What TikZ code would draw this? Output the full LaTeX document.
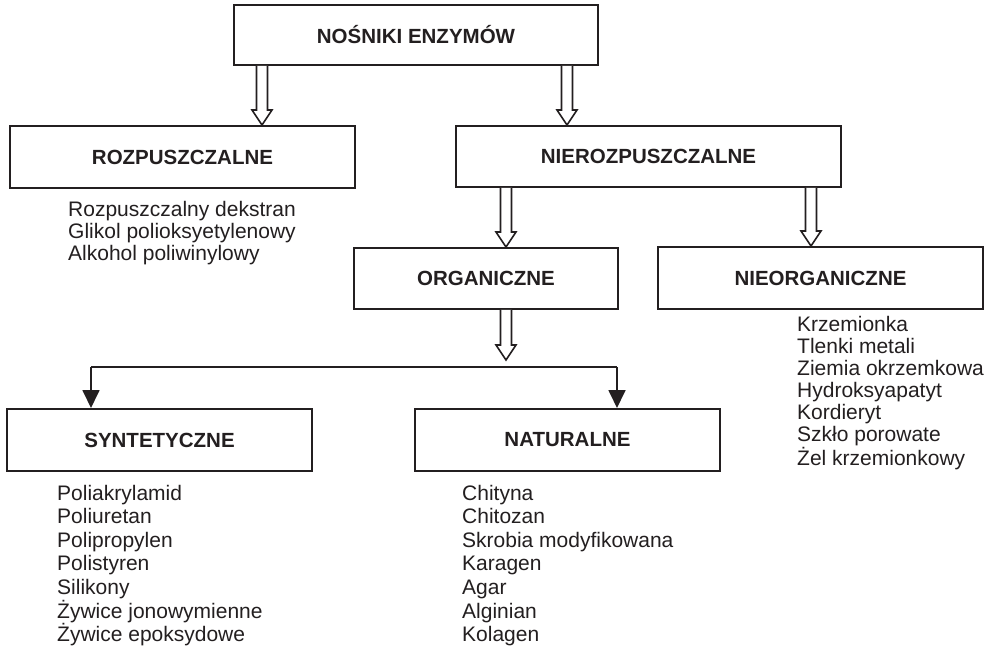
\documentclass[tikz,border=0pt]{standalone}
\usepackage{fontspec}
\setmainfont{Liberation Sans}
\usetikzlibrary{arrows.meta,calc}
\definecolor{ink}{RGB}{35,31,32}
\tikzset{
  box/.style={draw=ink, line width=2pt, inner sep=0pt, text=ink,
    font=\bfseries\fontsize{20.5}{24}\selectfont},
  itemlist/.style={anchor=base west, inner sep=0pt, align=left, text=ink,
    font=\fontsize{21}{22}\selectfont},
  hollowline/.style={draw=ink, line width=1.6pt, fill=white, line join=miter},
  solidline/.style={draw=ink, line width=1.8pt},
  solidarrow/.style={solidline, -{Triangle[width=17pt,length=18pt]}},
}
\newcommand\hollowarrow[2]{%
  \draw[hollowline] let \p1=(#1), \p2=(#2) in
    (\x1-5.5pt,\y1) -- (\x1-5.5pt,\y2+15pt) -- (\x1-10pt,\y2+15pt) --
    (\x1,\y2) -- (\x1+10pt,\y2+15pt) -- (\x1+5.5pt,\y2+15pt) --
    (\x1+5.5pt,\y1);}
\begin{document}
\begin{tikzpicture}[x=1pt,y=-1pt]
\useasboundingbox[fill=white] (0,0) rectangle (994,647);

% boxes
\node[box, minimum width=364pt, minimum height=60pt] (top) at (416,35) {NOŚNIKI ENZYMÓW};
\node[box, minimum width=345pt, minimum height=62pt] (roz) at (182.5,157) {ROZPUSZCZALNE};
\node[box, minimum width=385pt, minimum height=61pt] (nieroz) at (648.5,156.5) {NIEROZPUSZCZALNE};
\node[box, minimum width=264pt, minimum height=61pt] (org) at (486,278.5) {ORGANICZNE};
\node[box, minimum width=325pt, minimum height=62pt] (nieorg) at (820.5,278) {NIEORGANICZNE};
\node[box, minimum width=305pt, minimum height=62pt] (syn) at (159.5,440) {SYNTETYCZNE};
\node[box, minimum width=305pt, minimum height=62pt] (nat) at (567.5,440) {NATURALNE};

% item lists (anchored at the baseline of the last line)
\node[itemlist] (rozlist) at (68,261) {Rozpuszczalny dekstran\\Glikol polioksyetylenowy\\Alkohol poliwinylowy};
\node[itemlist] (nieorglist) at (797,465) {Krzemionka\\Tlenki metali\\Ziemia okrzemkowa\\Hydroksyapatyt\\Kordieryt\\Szkło porowate\\Żel krzemionkowy};
\node[itemlist, font=\fontsize{21}{23.6}\selectfont] (synlist) at (57,641.6) {Poliakrylamid\\Poliuretan\\Polipropylen\\Polistyren\\Silikony\\Żywice jonowymienne\\Żywice epoksydowe};
\node[itemlist, font=\fontsize{21}{23.6}\selectfont] (natlist) at (462,641.6) {Chityna\\Chitozan\\Skrobia modyfikowana\\Karagen\\Agar\\Alginian\\Kolagen};

% arrow columns
\coordinate (c1) at (262,0);
\coordinate (c2) at (567,0);
\coordinate (c3) at (506,0);
\coordinate (c4) at (811,0);
\coordinate (split) at (506,360);
\coordinate (hl) at (91,367);
\coordinate (hr) at (617,367);

% hollow arrows
\hollowarrow{top.south -| c1}{roz.north -| c1}
\hollowarrow{top.south -| c2}{nieroz.north -| c2}
\hollowarrow{nieroz.south -| c3}{org.north -| c3}
\hollowarrow{nieroz.south -| c4}{nieorg.north -| c4}
\hollowarrow{org.south -| split}{split}

% branching solid arrows
\draw[solidline] (hl) -- (hr);
\draw[solidarrow] (hl) -- (syn.north -| hl);
\draw[solidarrow] (hr) -- (nat.north -| hr);
\end{tikzpicture}
\end{document}
